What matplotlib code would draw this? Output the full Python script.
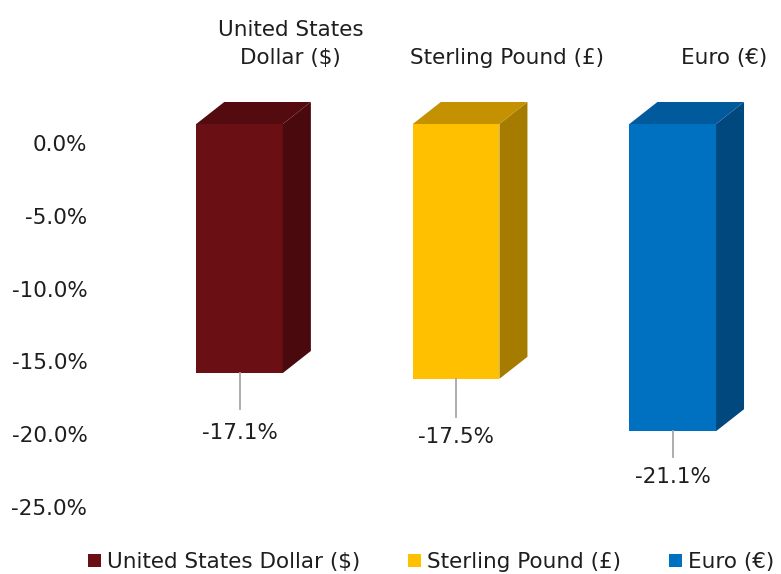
import matplotlib
matplotlib.use("Agg")
import matplotlib.pyplot as plt
from matplotlib.patches import Polygon, Rectangle, Patch
from matplotlib.transforms import ScaledTranslation, blended_transform_factory

categories = ["United States Dollar ($)", "Sterling Pound (£)", "Euro (€)"]
cat_labels = ["United States\nDollar ($)", "Sterling Pound (£)", "Euro (€)"]
values = [-17.1, -17.5, -21.1]
yticks = [0, -5, -10, -15, -20, -25]

front_colors = ["#6A0F13", "#FFC000", "#0070C0"]
side_colors = ["#4A090C", "#A67C00", "#00487E"]
top_colors = ["#530B0F", "#C49200", "#005A9C"]

W, H, DPI = 781, 574, 100
FS = 15.5
plt.rcParams["font.family"] = ["DejaVu Sans"]
fig = plt.figure(figsize=(W / DPI, H / DPI), dpi=DPI)

# axes placement in pixels
ax_left, ax_right = 109.6, 781
ax_top, ax_bot = 90, 520
ax = fig.add_axes([ax_left / W, 1 - ax_bot / H, (ax_right - ax_left) / W, (ax_bot - ax_top) / H])
ax.set_xlim(-0.6, 2.5)
ax.set_ylim(-(ax_bot - 143) / 14.56, (143 - ax_top) / 14.56)

for s in ax.spines.values():
    s.set_visible(False)
ax.set_xticks([])
ax.set_yticks(yticks)
ax.set_yticklabels([f"{t:.1f}%" for t in yticks], fontsize=FS, color="#1E1E1E")
ax.tick_params(axis="y", length=0, pad=16)

# 3D styling offsets
shift = ScaledTranslation(0, 19 / DPI, fig.dpi_scale_trans)
tr = ax.transData + shift
bw = 0.40
ddx = 28 / 216.5
ddy = 22 / 14.56

for i, v in enumerate(values):
    x0, x1 = i - bw / 2, i + bw / 2
    ax.add_patch(Rectangle((x0, v), bw, -v, facecolor=front_colors[i], edgecolor="none", transform=tr))
    ax.add_patch(Polygon([(x1, 0), (x1 + ddx, ddy), (x1 + ddx, v + ddy), (x1, v)],
                         closed=True, facecolor=side_colors[i], edgecolor="none", transform=tr))
    ax.add_patch(Polygon([(x0, 0), (x1, 0), (x1 + ddx, ddy), (x0 + ddx, ddy)],
                         closed=True, facecolor=top_colors[i], edgecolor="none", transform=tr))

# data labels with leader lines
line_len = [36, 38, 26]
label_gap = [60, 58, 46]
for i, v in enumerate(values):
    ax.plot([i, i], [v, v - line_len[i] / 14.56], color="#A6A6A6", lw=1.3, transform=tr, clip_on=False)
    ax.text(i, v - label_gap[i] / 14.56, f"{v:.1f}%", ha="center", va="center",
            fontsize=FS, color="#1E1E1E", transform=tr, clip_on=False)

# category labels at top
btr = blended_transform_factory(ax.transData, fig.transFigure)
for i, lab in enumerate(cat_labels):
    ax.text(i + 51 / 216.5, 1 - 64 / H, lab, ha="center", va="baseline", fontsize=FS,
            color="#1E1E1E", transform=btr, linespacing=1.5, clip_on=False, multialignment="center")

handles = [Patch(facecolor=c, edgecolor="none") for c in front_colors]
fig.legend(handles, categories, loc="center", bbox_to_anchor=(0.552, 1 - 562 / H), ncol=3,
           frameon=False, fontsize=FS, handlelength=0.6, handleheight=0.6, handletextpad=0.3,
           columnspacing=2.2, labelcolor="#1E1E1E")

fig.savefig("out.png", dpi=DPI)
